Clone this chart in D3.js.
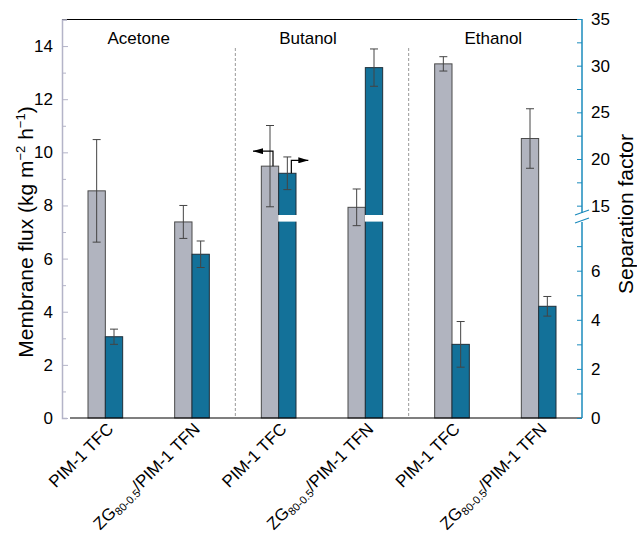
<!DOCTYPE html>
<html>
<head>
<meta charset="utf-8">
<script src="https://cdn.jsdelivr.net/npm/d3@7"></script>
<style>
  body { margin: 0; background: #fff; }
  text { font-family: "Liberation Sans", Arial, sans-serif; fill: #000; }
</style>
</head>
<body>
<div id="chart"></div>
<script>
// data
const groups = ["Acetone", "Butanol", "Ethanol"];
const membranes = ["PIM-1 TFC", "ZG/PIM-1 TFN"];
const fluxValues = [8.55, 7.38, 9.48, 7.93, 13.33, 10.52];
const fluxErrors = [1.93, 0.62, 1.53, 0.69, 0.27, 1.12];
const sepValues = [3.31, 6.67, 18.47, 29.79, 3.0, 4.55];
const sepErrors = [0.31, 0.54, 1.75, 2.0, 0.93, 0.4];
const fluxTicks = [0, 2, 4, 6, 8, 10, 12, 14];
const sepLowTicks = [0, 2, 4, 6];
const sepHighTicks = [15, 20, 25, 30, 35];

const W = 637, H = 536;
const plot = { left: 62, right: 582, top: 19.5, bottom: 418 };

const svg = d3.select("#chart").append("svg")
    .attr("width", W).attr("height", H);

const cats = d3.range(groups.length * membranes.length);
const x = d3.scaleBand().domain(cats).range([plot.left, plot.right])
    .paddingInner(0.6).paddingOuter(0.3);
const yFlux = d3.scaleLinear().domain([0, 15]).range([plot.bottom, plot.top]);
const ySepLow = d3.scaleLinear().domain([0, 8]).range([plot.bottom, 221.6]);
const ySepHigh = d3.scaleLinear().domain([14, 35]).range([215, 19]);
const ySep = v => v <= 8 ? ySepLow(v) : ySepHigh(v);

const half = x.bandwidth() / 2;
const grayFill = "#b1b4bf", blueFill = "#137199";

// group separators
[1, 3].forEach(i => {
    const sx = (x(i) + x.bandwidth() + x(i + 1)) / 2;
    svg.append("line")
        .attr("x1", sx).attr("x2", sx).attr("y1", 48).attr("y2", plot.bottom)
        .attr("stroke", "#999").attr("stroke-width", 1).attr("stroke-dasharray", "3,2");
});

// group labels (nudged a bit like the original)
const labelShift = [-10, -14, -2];
groups.forEach((g, i) => {
    const cx = (x(i * 2) + x(i * 2 + 1) + x.bandwidth()) / 2 + labelShift[i];
    svg.append("text").attr("x", cx).attr("y", 44)
        .attr("text-anchor", "middle").attr("font-size", 17).text(g);
});

// flux bars
svg.selectAll(".flux").data(cats).enter().append("rect")
    .attr("class", "flux")
    .attr("x", d => x(d))
    .attr("y", d => yFlux(fluxValues[d]))
    .attr("width", half)
    .attr("height", d => plot.bottom - yFlux(fluxValues[d]))
    .attr("fill", grayFill).attr("stroke", "#4a4a4a").attr("stroke-width", 1);

// separation bars
svg.selectAll(".sep").data(cats).enter().append("rect")
    .attr("class", "sep")
    .attr("x", d => x(d) + half)
    .attr("y", d => ySep(sepValues[d]))
    .attr("width", half)
    .attr("height", d => plot.bottom - ySep(sepValues[d]))
    .attr("fill", blueFill).attr("stroke", "#1f2f3a").attr("stroke-width", 1);

// white gap at axis break
svg.selectAll(".gap").data(cats.filter(d => sepValues[d] > 8)).enter().append("rect")
    .attr("x", d => x(d) + half - 0.5)
    .attr("y", 215).attr("width", half + 2).attr("height", 6.6)
    .attr("fill", "#fff");

// error bars
function errBar(cx, y1, y2) {
    const g = svg.append("g").attr("stroke", "#444").attr("stroke-width", 1);
    g.append("line").attr("x1", cx).attr("x2", cx).attr("y1", y1).attr("y2", y2);
    g.append("line").attr("x1", cx - 4).attr("x2", cx + 4).attr("y1", y1).attr("y2", y1);
    g.append("line").attr("x1", cx - 4).attr("x2", cx + 4).attr("y1", y2).attr("y2", y2);
}
cats.forEach(d => {
    errBar(x(d) + half / 2, yFlux(fluxValues[d] + fluxErrors[d]), yFlux(fluxValues[d] - fluxErrors[d]));
    errBar(x(d) + half * 1.5, ySep(sepValues[d] + sepErrors[d]), ySep(sepValues[d] - sepErrors[d]));
});

// arrows on butanol PIM-1 TFC
svg.append("defs").append("marker").attr("id", "ah")
    .attr("viewBox", "0 0 10 6").attr("refX", 10).attr("refY", 3)
    .attr("markerWidth", 10).attr("markerHeight", 6).attr("markerUnits", "userSpaceOnUse")
    .attr("orient", "auto")
    .append("path").attr("d", "M0,0L10,3L0,6Z").attr("fill", "#000");
const ax1 = x(2) + half / 2 + 3, ay1 = yFlux(fluxValues[2]) - 15;
svg.append("path")
    .attr("d", `M${ax1},${yFlux(fluxValues[2])}V${ay1}H${ax1 - 20}`)
    .attr("fill", "none").attr("stroke", "#000").attr("stroke-width", 1.2)
    .attr("marker-end", "url(#ah)");
const ax2 = x(2) + half * 1.5 + 4, ay2 = ySep(sepValues[2]) - 13;
svg.append("path")
    .attr("d", `M${ax2},${ySep(sepValues[2])}V${ay2}H${ax2 + 17}`)
    .attr("fill", "none").attr("stroke", "#000").attr("stroke-width", 1.2)
    .attr("marker-end", "url(#ah)");

// top border and bottom axis
svg.append("line").attr("x1", plot.left).attr("x2", plot.right - 4).attr("y1", plot.top).attr("y2", plot.top)
    .attr("stroke", "#000").attr("stroke-width", 1.2);
svg.append("line").attr("x1", plot.left + 8).attr("x2", plot.right).attr("y1", plot.bottom).attr("y2", plot.bottom)
    .attr("stroke", "#000").attr("stroke-width", 1.2);

// left axis
const leftAxis = svg.append("g").attr("transform", `translate(${plot.left},0)`)
    .call(d3.axisLeft(yFlux).tickValues(d3.range(0, 15, 1)).tickSize(-5).tickPadding(8)
        .tickFormat(d => fluxTicks.includes(d) ? d : ""));
leftAxis.selectAll("line").attr("stroke", "#b4b4c8").attr("x2", d => fluxTicks.includes(d) ? 6 : 4);
leftAxis.select(".domain").attr("stroke", "#b4b4c8").attr("stroke-width", 1.5);
leftAxis.selectAll("text").attr("font-size", 17).attr("font-family", "Liberation Sans, Arial").attr("x", -9);

// right axis, two segments
const axisBlue = "#1b8bbd";
const lowAxis = svg.append("g").attr("transform", `translate(${plot.right},0)`)
    .call(d3.axisRight(ySepLow).tickValues(d3.range(0, 8, 1)).tickSize(-5).tickPadding(9)
        .tickFormat(d => sepLowTicks.includes(d) ? d : ""));
lowAxis.select(".domain").attr("d", `M0,${plot.bottom}V${222}`);
const highAxis = svg.append("g").attr("transform", `translate(${plot.right},0)`)
    .call(d3.axisRight(ySepHigh).tickValues(d3.range(15, 35.1, 2.5)).tickSize(-5).tickPadding(9)
        .tickFormat(d => sepHighTicks.includes(d) ? d : ""));
highAxis.select(".domain").attr("d", `M0,${213}V${19}`);
[lowAxis, highAxis].forEach(a => {
    a.select(".domain").attr("stroke", axisBlue).attr("stroke-width", 1.5);
    a.selectAll("line").attr("stroke", axisBlue);
    a.selectAll("text").attr("font-size", 17).attr("font-family", "Liberation Sans, Arial");
});
// break marks
[0, 8].forEach(o => {
    svg.append("line").attr("x1", plot.right - 7).attr("x2", plot.right + 7)
        .attr("y1", 215 + o).attr("y2", 210 + o)
        .attr("stroke", axisBlue).attr("stroke-width", 1.2);
});

// axis titles
svg.append("text")
    .attr("transform", "translate(33,232) rotate(-90)")
    .attr("text-anchor", "middle").attr("font-size", 21)
    .html('Membrane flux (kg m<tspan dy="-8" font-size="13">−2</tspan><tspan dy="8"> h</tspan><tspan dy="-8" font-size="13">−1</tspan><tspan dy="8">)</tspan>');
svg.append("text")
    .attr("transform", "translate(633,214) rotate(-90)")
    .attr("text-anchor", "middle").attr("font-size", 21)
    .text("Separation factor");

// x labels
cats.forEach(d => {
    const cx = x(d) + x.bandwidth() / 2 + 9;
    const t = svg.append("text")
        .attr("transform", `translate(${cx},${plot.bottom + 12}) rotate(-45)`)
        .attr("text-anchor", "end").attr("font-size", 17);
    if (d % 2 === 0) {
        t.text(membranes[0]);
    } else {
        t.append("tspan").text("ZG");
        t.append("tspan").attr("font-size", 11).attr("dy", 3).text("80-0.5");
        t.append("tspan").attr("dy", -3).text("/PIM-1 TFN");
    }
});
</script>
</body>
</html>
